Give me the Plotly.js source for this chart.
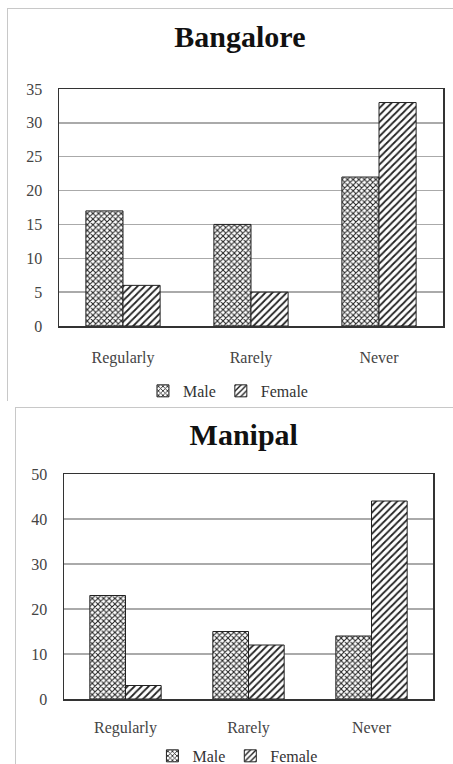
<!DOCTYPE html>
<html><head><meta charset="utf-8">
<script src="https://cdn.plot.ly/plotly-3.0.1.min.js"></script>
<style>
body{margin:0;background:#fff;width:453px;height:764px;overflow:hidden;position:relative;}
#c1{position:absolute;left:7px;top:8px;width:446px;height:393px;border:1px solid #c8c8c8;box-sizing:border-box;}
#c2{position:absolute;left:15px;top:407px;width:438px;height:357px;border:1px solid #c8c8c8;box-sizing:border-box;}
</style></head><body>
<div id="c1"></div><div id="c2"></div>
<script>
const categories = ["Regularly", "Rarely", "Never"];
const bangaloreMale = [17, 15, 22];
const bangaloreFemale = [6, 5, 33];
const manipalMale = [23, 15, 14];
const manipalFemale = [3, 12, 44];
const bangaloreTicks = [0, 5, 10, 15, 20, 25, 30, 35];
const manipalTicks = [0, 10, 20, 30, 40, 50];

const FONT = "Liberation Serif, Times New Roman, serif";

function traces(m, f) {
  return [
    {type:'bar', name:'Male', x:categories, y:m,
     marker:{color:'white', line:{color:'#222', width:1},
       pattern:{shape:'x', fgcolor:'#222', bgcolor:'white', size:4, solidity:0.45}}},
    {type:'bar', name:'Female', x:categories, y:f,
     marker:{color:'white', line:{color:'#222', width:1},
       pattern:{shape:'/', fgcolor:'#222', bgcolor:'white', size:5, solidity:0.35}}}
  ];
}

function layout(title, ticks, w, h, mar, ty, lx, ly, standoff) {
  mar.autoexpand = false;
  return {
    width:w, height:h, margin:mar,
    paper_bgcolor:'white', plot_bgcolor:'white',
    font:{family:FONT, color:'#333', size:16},
    title:{text:'<b>'+title+'</b>', font:{family:FONT, size:30, color:'#111'},
      x:0.52, xanchor:'center', y:ty, yref:'container', yanchor:'middle'},
    barmode:'group', bargap:0.42, bargroupgap:0,
    showlegend:true,
    legend:{orientation:'h', x:lx, xanchor:'center', y:ly, yanchor:'middle',
      bgcolor:'rgba(0,0,0,0)',
      font:{family:FONT, size:16, color:'#333'}, tracegroupgap:0},
    xaxis:{showline:true, linecolor:'#333', linewidth:1.5, mirror:true,
      ticks:'', ticklabelstandoff:standoff, tickfont:{family:FONT, size:16, color:'#444'}},
    yaxis:{range:[0, ticks[ticks.length-1]], tickvals:ticks, showgrid:true,
      gridcolor:'#aaa', gridwidth:1.5, showline:true, linecolor:'#333', linewidth:1.5, mirror:true,
      ticks:'', ticklabelstandoff:12, tickfont:{family:FONT, size:16, color:'#444'}, zeroline:false}
  };
}

Plotly.newPlot('c1', traces(bangaloreMale, bangaloreFemale),
  layout('Bangalore', bangaloreTicks, 446, 393, {l:51, r:11, t:80, b:76}, 0.93, 0.44, -0.274, 16),
  {displayModeBar:false, staticPlot:true});
Plotly.newPlot('c2', traces(manipalMale, manipalFemale),
  layout('Manipal', manipalTicks, 438, 357, {l:48, r:21, t:66, b:66}, 0.925, 0.47, -0.253, 13),
  {displayModeBar:false, staticPlot:true});
</script>
</body></html>
